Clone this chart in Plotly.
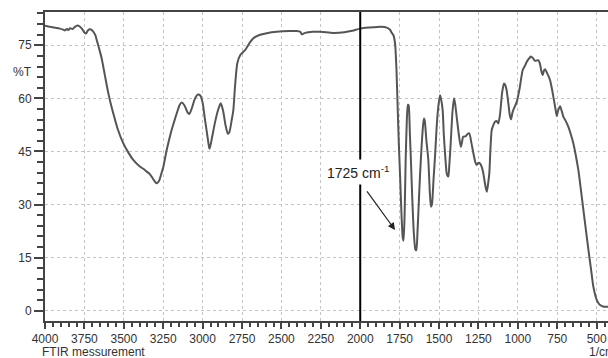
import plotly.graph_objects as go

wavenumber = [4000, 3985, 3965, 3945, 3925, 3905, 3890, 3875, 3860, 3852, 3840, 3825, 3810, 3795, 3780,
              3765, 3750, 3740, 3728, 3714, 3700, 3690, 3680, 3670, 3655, 3640, 3620, 3598, 3580, 3567,
              3540, 3503, 3470, 3440, 3400, 3370, 3355, 3335, 3315, 3300, 3290, 3275, 3260, 3249, 3228,
              3200, 3180, 3164, 3145, 3133, 3115, 3095, 3084, 3070, 3050, 3030, 3015, 3000, 2985, 2970,
              2958, 2955, 2940, 2920, 2900, 2885, 2870, 2855, 2840, 2830, 2815, 2805, 2795, 2780, 2760,
              2731, 2700, 2678, 2640, 2593, 2530, 2450, 2403, 2380, 2371, 2360, 2350, 2300, 2250, 2171,
              2100, 2050, 2001, 1950, 1917, 1870, 1832, 1811, 1800, 1790, 1779, 1770, 1762, 1755, 1747,
              1738, 1730, 1725, 1718, 1712, 1705, 1698, 1693, 1685, 1678, 1670, 1660, 1650, 1644, 1637,
              1628, 1621, 1610, 1600, 1595, 1590, 1580, 1568, 1558, 1551, 1545, 1535, 1525, 1515, 1505,
              1494, 1488, 1477, 1470, 1462, 1450, 1441, 1435, 1426, 1415, 1405, 1398, 1388, 1375, 1362,
              1355, 1346, 1330, 1318, 1308, 1295, 1282, 1270, 1261, 1250, 1240, 1228, 1219, 1205, 1197,
              1190, 1181, 1175, 1166, 1155, 1145, 1135, 1124, 1113, 1100, 1088, 1080, 1071, 1060, 1050,
              1043, 1035, 1029, 1018, 1007, 990, 969, 955, 944, 930, 918, 905, 891, 880, 870,
              860, 850, 842, 835, 827, 815, 796, 785, 775, 763, 753, 745, 732, 722, 711,
              695, 680, 665, 648, 632, 616, 600, 584, 568, 552, 536, 521, 510, 499, 488,
              478, 460, 436, 428]
transmittance = [80.5, 80.4, 80.2, 80.0, 79.9, 79.7, 79.5, 79.2, 79.6, 79.3, 79.8, 79.6, 80.2, 80.6, 80.3,
                 79.6, 78.6, 78.3, 79.2, 79.5, 79.2, 78.6, 77.8, 76.2, 73.8, 71.2, 66.5, 61.4, 58.0, 55.8,
                 51.5, 47.3, 44.6, 42.6, 40.8, 39.9, 39.3, 38.6, 37.3, 36.3, 36.0, 36.8, 39.0, 40.7, 45.4,
                 50.5, 53.5, 55.8, 58.2, 58.8, 58.0, 56.0, 55.6, 57.0, 59.8, 61.1, 60.8, 58.8, 54.0, 49.5,
                 46.0, 45.8, 49.0, 53.5, 57.0, 58.6, 56.5, 52.5, 50.0, 50.5, 54.0, 56.7, 63.0, 69.9, 72.3,
                 73.6, 75.8, 77.0, 77.9, 78.4, 78.8, 79.0, 79.0, 78.8, 78.1, 78.3, 78.5, 78.8, 78.8, 78.5,
                 78.7, 79.1, 79.7, 80.0, 80.1, 80.2, 80.0, 79.4, 78.5, 77.9, 75.5, 68.0, 56.7, 47.0, 37.9,
                 27.0, 20.5, 19.8, 28.0, 42.0, 53.0, 58.2, 58.0, 50.0, 42.0, 32.0, 22.0, 17.3, 17.1, 22.0,
                 31.0, 37.9, 47.0, 53.0, 54.3, 53.5, 48.0, 42.6, 33.0, 29.4, 30.0, 37.0, 44.0, 52.0, 57.5,
                 60.9, 60.0, 56.7, 50.0, 44.5, 38.5, 37.9, 41.0, 47.3, 56.0, 60.0, 58.5, 54.8, 50.0, 46.3,
                 47.5, 49.2, 49.3, 50.0, 50.1, 47.5, 44.5, 42.0, 41.2, 41.8, 41.6, 40.5, 38.8, 35.0, 33.6,
                 35.5, 38.8, 44.5, 51.0, 52.5, 53.4, 53.6, 52.9, 55.5, 61.5, 64.2, 63.8, 62.3, 58.5, 55.0,
                 54.1, 55.8, 56.7, 57.8, 59.0, 62.5, 68.0, 69.2, 70.3, 71.2, 71.8, 71.4, 70.6, 70.7, 70.8,
                 69.8, 67.5, 66.6, 67.8, 68.2, 67.2, 65.2, 63.0, 60.5, 57.5, 55.0, 56.5, 57.8, 56.5, 54.8,
                 53.5, 52.0, 50.0, 47.3, 43.8, 39.7, 34.2, 28.4, 22.8, 17.1, 11.8, 6.8, 4.6, 3.0, 2.1,
                 1.6, 1.2, 1.1, 1.1]

x_ticks = [4000, 3750, 3500, 3250, 3000, 2750, 2500, 2250, 2000, 1750, 1500, 1250, 1000, 750, 500]
y_ticks = [0, 15, 30, 45, 60, 75]

FONT = "Liberation Sans, Arial, sans-serif"
TXT = "#333333"
AX = "#444444"

fig = go.Figure()
fig.add_trace(go.Scatter(x=wavenumber, y=transmittance, mode="lines",
                         line=dict(color="#555555", width=2, shape="spline", smoothing=0.6),
                         hoverinfo="skip", showlegend=False))

fig.update_layout(
    width=608, height=358,
    margin=dict(l=45, r=0, t=12, b=37, autoexpand=False),
    paper_bgcolor="white", plot_bgcolor="white",
    font=dict(family=FONT, size=12, color=TXT),
    showlegend=False,
    xaxis=dict(range=[4000, 428], tickvals=x_ticks, ticktext=[str(v) for v in x_ticks],
               ticks="outside", ticklen=6, tickwidth=2, tickcolor=AX,
               showline=True, linecolor=AX, linewidth=2, mirror=True,
               showgrid=True, gridcolor="#c4c4c4", griddash="dot", gridwidth=1,
               zeroline=False, automargin=False,
               minor=dict(dtick=50, tick0=0, ticks="outside", ticklen=4, tickwidth=1.5,
                          tickcolor=AX, showgrid=False)),
    yaxis=dict(range=[-2.9, 84.4], tickvals=y_ticks, ticktext=[str(v) for v in y_ticks],
               ticks="outside", ticklen=9, tickwidth=2, tickcolor=AX,
               showline=True, linecolor=AX, linewidth=2, mirror=False,
               showgrid=True, gridcolor="#c4c4c4", griddash="dot", gridwidth=1,
               zeroline=False, automargin=False,
               minor=dict(dtick=3, tick0=0, ticks="outside", ticklen=6, tickwidth=1.5,
                          tickcolor=AX, showgrid=False)),
)

fig.add_shape(type="line", xref="x", yref="paper", x0=2000, x1=2000, y0=0, y1=1,
              line=dict(color="black", width=2))

fig.add_annotation(xref="x", yref="y", x=1779, y=22.8, ax=1976, ay=34.9,
                   axref="x", ayref="y", text=" ", showarrow=True,
                   arrowhead=2, arrowsize=1.2, arrowwidth=1.2, arrowcolor="#222222")
fig.add_annotation(xref="x", yref="y", x=2014, y=39.2, text="1725 cm<sup>-1</sup>",
                   showarrow=False, bgcolor="white", borderpad=3,
                   font=dict(family=FONT, size=14, color="#222222"))
fig.add_annotation(xref="paper", yref="y", x=0, y=67.5, xanchor="right", xshift=-11,
                   text="%T", showarrow=False, font=dict(family=FONT, size=12, color=TXT))
fig.add_annotation(xref="paper", yref="paper", x=0, y=0, xanchor="left", yanchor="middle",
                   xshift=-5, yshift=-31, text="FTIR messurement", showarrow=False,
                   font=dict(family=FONT, size=12, color=TXT))
fig.add_annotation(xref="paper", yref="paper", x=1, y=0, xanchor="left", yanchor="middle",
                   xshift=-21, yshift=-31, text="1/cm", showarrow=False,
                   font=dict(family=FONT, size=12, color=TXT))

fig.write_html("out.html", config={"displayModeBar": False},
               post_script="document.body.style.margin='0';document.body.style.overflow='hidden';")
